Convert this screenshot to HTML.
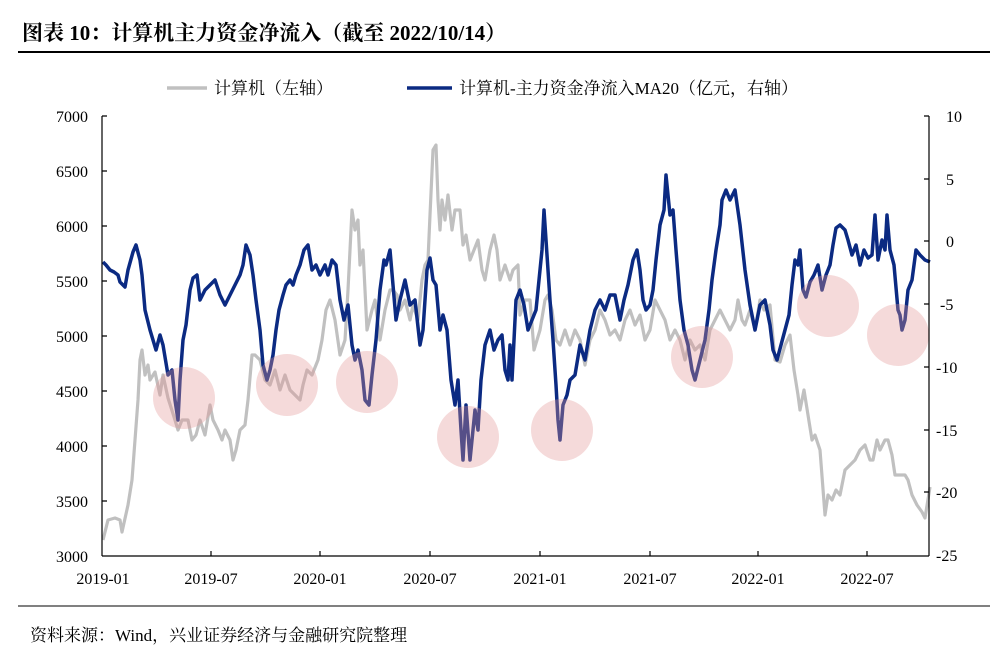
<!DOCTYPE html>
<html><head><meta charset="utf-8"><style>
body{margin:0;background:#fff;}
svg{display:block;}
text{font-family:"Liberation Serif","Noto Serif CJK SC",serif;}
</style></head><body>
<svg width="1007" height="667" viewBox="0 0 1007 667" xmlns="http://www.w3.org/2000/svg">
<text x="22" y="40" font-size="21" font-weight="bold" fill="#000">图表 10：计算机主力资金净流入（截至 2022/10/14）</text>
<line x1="18" y1="52" x2="990" y2="52" stroke="#000" stroke-width="2"/>
<line x1="18" y1="606" x2="990" y2="606" stroke="#000" stroke-width="1"/>
<text x="30" y="641" font-size="17" fill="#000">资料来源：Wind，兴业证券经济与金融研究院整理</text>

<line x1="167" y1="88" x2="207" y2="88" stroke="#c0c0c0" stroke-width="3.5"/>
<text x="214" y="94" font-size="17" fill="#000">计算机（左轴）</text>
<line x1="407" y1="88" x2="452" y2="88" stroke="#0b2a82" stroke-width="3.5"/>
<text x="459" y="94" font-size="17" fill="#000">计算机-主力资金净流入MA20（亿元，右轴）</text>

<polyline fill="none" stroke="#c0c0c0" stroke-width="3.2" stroke-linejoin="round" points="103,540 108,520 115,518 120,520 122,532 128,505 132,480 135,440 138,400 140,360 142,350 145,375 148,365 150,380 155,372 160,395 163,375 168,398 175,420 178,430 182,420 188,420 192,440 196,435 200,420 205,435 210,405 213,420 218,430 222,440 225,430 230,440 233,460 236,450 240,430 245,425 248,400 252,355 255,355 260,360 265,380 270,385 275,370 280,390 285,375 290,390 295,395 300,400 303,385 307,370 312,375 318,360 322,340 326,310 330,300 335,320 340,355 345,340 348,290 350,250 352,210 355,230 358,220 360,265 363,250 367,330 372,310 375,300 380,340 385,310 390,290 393,290 397,295 400,310 405,300 410,320 413,305 418,320 422,280 425,265 428,260 430,215 433,150 436,145 438,200 440,230 442,200 445,220 448,195 452,230 455,210 460,210 463,245 466,235 470,260 474,250 478,240 482,270 485,280 490,250 494,235 497,250 500,280 505,265 510,280 513,270 518,265 520,315 525,300 530,300 534,350 537,340 540,330 545,300 548,295 552,310 556,340 560,345 565,330 570,345 575,330 580,340 585,365 590,340 595,330 600,310 605,320 610,335 615,330 620,340 625,320 630,310 635,325 640,315 645,340 650,330 655,300 660,310 665,320 670,340 675,330 680,340 685,360 690,340 695,350 700,345 705,360 710,330 715,320 720,310 725,320 730,330 735,320 738,300 742,320 745,325 750,310 755,330 760,300 764,310 770,305 775,360 780,362 785,345 790,335 794,370 798,395 800,410 804,390 808,415 812,440 815,435 820,450 825,515 828,495 832,500 836,490 840,495 845,470 850,465 855,460 860,450 865,445 870,460 873,460 877,440 880,450 885,440 888,440 892,455 895,475 900,475 905,475 908,480 912,495 917,505 922,512 925,518 930,487"/>

<polyline fill="none" stroke="#0b2a82" stroke-width="3.5" stroke-linejoin="round" points="103,262 106,265 110,270 114,272 118,275 120,282 125,287 128,270 133,252 136,245 140,260 142,275 145,310 150,330 153,340 156,350 160,335 163,345 168,375 172,370 175,400 178,420 180,380 183,340 186,325 190,290 193,278 197,275 200,300 205,290 210,285 215,280 220,295 225,305 230,295 235,285 240,275 243,265 246,245 250,255 253,275 256,300 260,330 263,365 267,380 270,370 273,355 276,330 279,310 283,295 286,285 290,280 293,285 296,275 300,265 304,250 308,245 312,270 316,265 320,275 325,265 328,275 332,260 336,265 340,300 344,320 348,305 352,345 355,360 358,350 362,370 365,400 369,405 372,375 376,340 380,290 384,260 386,265 390,250 393,285 396,320 400,300 405,280 410,305 415,300 420,345 423,330 427,270 430,258 433,280 436,285 440,330 443,315 447,330 451,380 455,405 458,380 461,430 463,460 466,405 470,460 475,410 478,430 481,380 485,345 490,330 494,350 498,340 502,335 505,370 508,380 510,345 512,380 516,300 520,290 524,305 528,330 532,320 536,310 539,280 542,250 544,210 546,240 550,300 553,340 556,385 558,420 560,440 563,405 567,395 570,380 575,375 580,345 585,360 590,330 595,310 600,300 605,310 610,295 615,295 620,320 624,300 628,285 633,260 637,250 640,270 643,300 646,310 650,305 653,290 656,260 660,225 664,210 666,175 670,215 673,210 676,250 680,300 684,330 688,345 692,370 695,380 700,360 705,340 709,310 712,280 716,250 720,225 722,200 726,190 730,200 735,190 740,225 745,270 750,305 755,330 760,305 765,300 770,325 773,350 777,360 781,345 785,330 789,315 792,285 795,260 798,265 800,250 803,290 806,297 810,282 814,275 818,265 822,290 826,275 830,265 833,245 836,228 840,225 845,230 848,240 852,255 856,245 860,265 864,250 868,258 872,255 875,215 878,260 882,240 885,250 887,215 890,250 894,265 898,310 900,315 902,330 905,320 908,290 912,280 916,250 920,255 925,260 930,262"/>

<g fill="rgba(225,150,150,0.35)">
<circle cx="184" cy="398" r="31"/><circle cx="287" cy="385" r="31"/><circle cx="367" cy="382" r="31"/><circle cx="468" cy="437" r="31"/><circle cx="562" cy="430" r="31"/><circle cx="702" cy="357" r="31"/><circle cx="828" cy="306" r="31"/><circle cx="898" cy="335" r="31"/>
</g>

<g stroke="#000" stroke-width="1.2" fill="none">
<line x1="102" y1="116" x2="102" y2="556"/>
<line x1="929" y1="116" x2="929" y2="556"/>
<line x1="102" y1="556" x2="929" y2="556"/>
<path d="M102 116h5M102 171h5M102 226h5M102 281h5M102 336h5M102 391h5M102 446h5M102 501h5"/>
<path d="M929 116h-5M929 179h-5M929 241h-5M929 304h-5M929 367h-5M929 430h-5M929 492h-5"/>
<path d="M211 556v-5M320 556v-5M430 556v-5M540 556v-5M650 556v-5M758 556v-5M867 556v-5"/>
</g>
<g font-size="16" fill="#000" text-anchor="end">
<text x="88" y="122">7000</text><text x="88" y="177">6500</text><text x="88" y="232">6000</text><text x="88" y="287">5500</text><text x="88" y="342">5000</text><text x="88" y="397">4500</text><text x="88" y="452">4000</text><text x="88" y="507">3500</text><text x="88" y="562">3000</text>
</g>
<g font-size="16" fill="#000">
<text x="946" y="122">10</text><text x="946" y="185">5</text><text x="946" y="247">0</text><text x="940" y="310">-5</text><text x="936" y="373">-10</text><text x="936" y="436">-15</text><text x="936" y="498">-20</text><text x="936" y="561">-25</text>
</g>
<g font-size="16" fill="#000" text-anchor="middle">
<text x="103" y="584">2019-01</text><text x="211" y="584">2019-07</text><text x="320" y="584">2020-01</text><text x="430" y="584">2020-07</text><text x="540" y="584">2021-01</text><text x="650" y="584">2021-07</text><text x="758" y="584">2022-01</text><text x="867" y="584">2022-07</text>
</g>
</svg>
</body></html>
